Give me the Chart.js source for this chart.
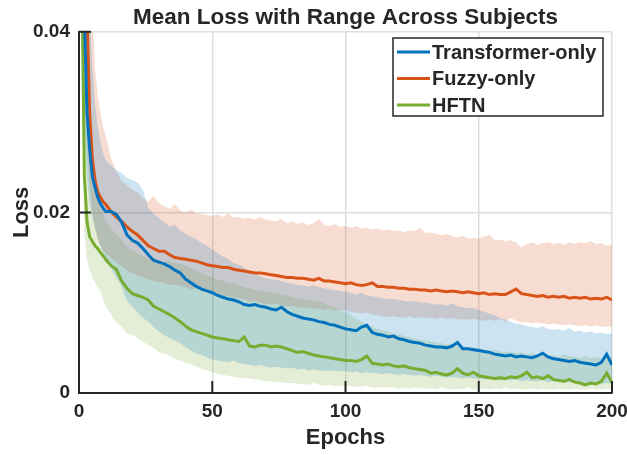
<!DOCTYPE html>
<html>
<head>
<meta charset="utf-8">
<title>Mean Loss with Range Across Subjects</title>
<script src="https://cdn.jsdelivr.net/npm/chart.js@4.4.1/dist/chart.umd.min.js"></script>
<style>
  html, body { margin: 0; padding: 0; background: #ffffff; }
  #wrap { width: 627px; height: 455px; }
</style>
</head>
<body>
<div id="wrap"><canvas id="chart" width="627" height="455"></canvas></div>
<script>
// epochs sampled from the figure (every epoch up to 10, then every 2nd)
var epochs = [
    1, 2, 3, 4, 5, 6, 7, 8, 9, 10,
    12, 14, 16, 18, 20, 22, 24, 26, 28, 30,
    32, 34, 36, 38, 40, 42, 44, 46, 48, 50,
    52, 54, 56, 58, 60, 62, 64, 66, 68, 70,
    72, 74, 76, 78, 80, 82, 84, 86, 88, 90,
    92, 94, 96, 98, 100, 102, 104, 106, 108, 110,
    112, 114, 116, 118, 120, 122, 124, 126, 128, 130,
    132, 134, 136, 138, 140, 142, 144, 146, 148, 150,
    152, 154, 156, 158, 160, 162, 164, 166, 168, 170,
    172, 174, 176, 178, 180, 182, 184, 186, 188, 190,
    192, 194, 196, 198, 200
];

var seriesNames = ['Transformer-only', 'Fuzzy-only', 'HFTN'];

var transformerMean = [
    0.06, 0.042, 0.031, 0.027, 0.024, 0.0228, 0.0217, 0.021, 0.0205, 0.0201,
    0.0201, 0.0198, 0.0189, 0.0175, 0.0169, 0.0166, 0.016, 0.0153, 0.0147, 0.0145,
    0.0143, 0.014, 0.0136, 0.0133, 0.0126, 0.0122, 0.0118, 0.0115, 0.0113, 0.0111,
    0.0108, 0.0106, 0.0104, 0.0103, 0.0101, 0.0098, 0.0097, 0.0098, 0.0096, 0.0095,
    0.0093, 0.0092, 0.0095, 0.009, 0.0087, 0.0085, 0.0083, 0.0082, 0.0081, 0.0079,
    0.0078, 0.0076, 0.0075, 0.0073, 0.0071, 0.007, 0.0069, 0.0073, 0.0075, 0.0067,
    0.0065, 0.0064, 0.0062, 0.0063, 0.006, 0.0059, 0.0057, 0.0056, 0.0055, 0.0053,
    0.0052, 0.0051, 0.0051, 0.005, 0.0052, 0.0056, 0.0049, 0.0049, 0.0048, 0.0047,
    0.0046, 0.0045, 0.0043, 0.0042, 0.0041, 0.0042, 0.004, 0.0041, 0.004, 0.0039,
    0.0041, 0.0044, 0.004, 0.0038, 0.0037, 0.0036, 0.0035, 0.0036, 0.0034, 0.0033,
    0.0032, 0.0031, 0.0034, 0.0043, 0.0031
];
var transformerMax = [
    0.08, 0.065, 0.05, 0.042, 0.036, 0.032, 0.0295, 0.0278, 0.0266, 0.0258,
    0.0252, 0.0247, 0.0244, 0.0238, 0.0236, 0.0233, 0.0225, 0.0205, 0.0198, 0.0194,
    0.0189, 0.0184, 0.0186, 0.018, 0.0176, 0.0173, 0.017, 0.0166, 0.0163, 0.0159,
    0.0155, 0.0151, 0.0148, 0.0144, 0.0142, 0.0139, 0.0135, 0.0131, 0.0129, 0.0127,
    0.0126, 0.0125, 0.0124, 0.0122, 0.0121, 0.012, 0.0119, 0.0118, 0.0119, 0.0117,
    0.0116, 0.0115, 0.0114, 0.0113, 0.0112, 0.0111, 0.0109, 0.0111, 0.0108, 0.0107,
    0.0106, 0.0105, 0.0104, 0.0104, 0.0103, 0.0102, 0.0101, 0.0102, 0.01, 0.01,
    0.0099, 0.0098, 0.0098, 0.0097, 0.0099, 0.0096, 0.0095, 0.0094, 0.0094, 0.0092,
    0.009, 0.0088, 0.0086, 0.0083, 0.0081, 0.0079, 0.0077, 0.0076, 0.0074, 0.0073,
    0.0072, 0.0074, 0.0071, 0.007, 0.0071, 0.0069, 0.0072, 0.0068, 0.0069, 0.0067,
    0.0068, 0.0066, 0.0067, 0.0065, 0.0066
];
var transformerMin = [
    0.04, 0.03, 0.024, 0.021, 0.0195, 0.0183, 0.0172, 0.0163, 0.0156, 0.015,
    0.0138, 0.0128, 0.0118, 0.0102, 0.0096, 0.0089, 0.0083, 0.0079, 0.0073, 0.0068,
    0.0064, 0.0061, 0.0058, 0.0055, 0.0051, 0.0047, 0.0044, 0.0042, 0.0039, 0.0037,
    0.0036, 0.0035, 0.0034, 0.0036, 0.0033, 0.0032, 0.0031, 0.003, 0.0031, 0.0029,
    0.0028, 0.0029, 0.0028, 0.0027, 0.0028, 0.0026, 0.0027, 0.0025, 0.0026, 0.0025,
    0.0025, 0.0024, 0.0025, 0.0024, 0.0024, 0.0023, 0.0024, 0.0022, 0.0023, 0.0022,
    0.0022, 0.0021, 0.0022, 0.0021, 0.002, 0.0021, 0.002, 0.0019, 0.002, 0.0019,
    0.0018, 0.0019, 0.0018, 0.0017, 0.0018, 0.0017, 0.0016, 0.0017, 0.0016, 0.0016,
    0.0015, 0.0016, 0.0015, 0.0014, 0.0015, 0.0014, 0.0015, 0.0013, 0.0014, 0.0013,
    0.0013, 0.0014, 0.0012, 0.0013, 0.0012, 0.0011, 0.0012, 0.0011, 0.0012, 0.0011,
    0.001, 0.0011, 0.001, 0.0011, 0.001
];

var fuzzyMean = [
    0.07, 0.052, 0.042, 0.031, 0.026, 0.0236, 0.0223, 0.0217, 0.0212, 0.0209,
    0.0201, 0.0195, 0.019, 0.0184, 0.0179, 0.0175, 0.0169, 0.0163, 0.016, 0.0157,
    0.0157, 0.0153, 0.015, 0.0149, 0.0148, 0.0147, 0.0146, 0.0144, 0.0142, 0.0141,
    0.014, 0.0139, 0.0139, 0.0137, 0.0136, 0.0135, 0.0134, 0.0133, 0.0133, 0.0132,
    0.0131, 0.013, 0.0129, 0.0128, 0.0128, 0.0127, 0.0127, 0.0126, 0.0125, 0.0127,
    0.0124, 0.0124, 0.0123, 0.0122, 0.0121, 0.0122, 0.012, 0.0119, 0.012, 0.0122,
    0.0118, 0.0118, 0.0117, 0.0117, 0.0116, 0.0116, 0.0115, 0.0115, 0.0114, 0.0114,
    0.0113, 0.0114, 0.0113, 0.0112, 0.0113, 0.0112, 0.0111, 0.0112, 0.0111, 0.011,
    0.0111, 0.0109, 0.011, 0.0109, 0.0109, 0.0112, 0.0115, 0.011, 0.0109, 0.0108,
    0.0107, 0.0108, 0.0106, 0.0107, 0.0106, 0.0107, 0.0105, 0.0106, 0.0105, 0.0106,
    0.0104, 0.0105, 0.0104, 0.0106, 0.0103
];
var fuzzyMax = [
    0.08, 0.07, 0.06, 0.05, 0.042, 0.036, 0.033, 0.031, 0.0295, 0.0285,
    0.026, 0.0245, 0.0235, 0.023, 0.0225, 0.0222, 0.0216, 0.0212, 0.0218, 0.021,
    0.0207, 0.0204, 0.0209, 0.0202, 0.02, 0.0203, 0.0199, 0.0198, 0.0197, 0.0196,
    0.0198, 0.0195, 0.0199, 0.0194, 0.0195, 0.0193, 0.0194, 0.0192, 0.0195, 0.0192,
    0.0191, 0.019, 0.0193, 0.0188, 0.019, 0.0187, 0.0189, 0.0186, 0.0188, 0.0193,
    0.0186, 0.0185, 0.0187, 0.0184, 0.0185, 0.0183, 0.0185, 0.0182, 0.0183, 0.0181,
    0.0182, 0.018, 0.0181, 0.0179, 0.018, 0.0178, 0.018, 0.0179, 0.0183, 0.0177,
    0.0178, 0.0176, 0.0175, 0.0176, 0.0174, 0.0172, 0.0174, 0.0171, 0.0172, 0.0171,
    0.0173, 0.0175, 0.0169, 0.017, 0.0168, 0.0169, 0.0167, 0.0161, 0.0165, 0.0167,
    0.0164, 0.0166, 0.0167, 0.0165, 0.0166, 0.0164, 0.0167, 0.0165, 0.0167, 0.0166,
    0.0168, 0.0165, 0.0166, 0.0163, 0.0164
];
var fuzzyMin = [
    0.05, 0.036, 0.028, 0.023, 0.02, 0.0182, 0.017, 0.0163, 0.0158, 0.0155,
    0.015, 0.0145, 0.014, 0.0136, 0.0133, 0.013, 0.0128, 0.0126, 0.0124, 0.0123,
    0.0122, 0.012, 0.012, 0.0119, 0.0117, 0.0115, 0.0116, 0.0113, 0.0114, 0.0112,
    0.011, 0.0109, 0.0107, 0.0106, 0.0105, 0.0104, 0.0101, 0.0102, 0.01, 0.0099,
    0.0098, 0.0099, 0.0097, 0.0096, 0.0097, 0.0095, 0.0094, 0.0095, 0.0093, 0.0094,
    0.0092, 0.0093, 0.0091, 0.0092, 0.0092, 0.009, 0.0089, 0.0088, 0.0089, 0.0087,
    0.0086, 0.0085, 0.0084, 0.0085, 0.0084, 0.0083, 0.0085, 0.0083, 0.0084, 0.0083,
    0.0083, 0.0082, 0.0084, 0.0082, 0.0083, 0.0081, 0.0082, 0.0081, 0.0082, 0.0081,
    0.008, 0.0081, 0.008, 0.0082, 0.0079, 0.0083, 0.008, 0.0078, 0.0079, 0.0077,
    0.0078, 0.0077, 0.0076, 0.0077, 0.0076, 0.0075, 0.0076, 0.0075, 0.0074, 0.0075,
    0.0074, 0.0075, 0.0073, 0.0074, 0.0073
];

var hftnMean = [
    0.048, 0.024, 0.019, 0.0173, 0.0168, 0.0163, 0.016, 0.0156, 0.0152, 0.0148,
    0.0141, 0.0137, 0.0124, 0.0116, 0.011, 0.0108, 0.0106, 0.0103, 0.0096, 0.0093,
    0.009, 0.0087, 0.0083, 0.0079, 0.0074, 0.007, 0.0068, 0.0066, 0.0064, 0.0062,
    0.0061, 0.006, 0.0059, 0.0058, 0.0057, 0.0062, 0.0052, 0.0051, 0.0053, 0.0053,
    0.0051, 0.0052, 0.0051, 0.0049, 0.0047, 0.0045, 0.0046, 0.0044, 0.0042, 0.0041,
    0.004, 0.0039, 0.0038, 0.0037, 0.0036, 0.0036, 0.0035, 0.0037, 0.0041, 0.0033,
    0.0032, 0.0031, 0.0032, 0.003, 0.0029, 0.003, 0.0028, 0.0027, 0.0026, 0.0025,
    0.0022, 0.0023, 0.0021, 0.002, 0.0022, 0.0027, 0.0022, 0.002, 0.0023, 0.0019,
    0.0018, 0.0017, 0.0016, 0.0017, 0.0016, 0.0018, 0.0017, 0.0019, 0.0023, 0.0017,
    0.0018, 0.0016, 0.0019, 0.0015, 0.0014, 0.0013, 0.0015, 0.0012, 0.0011, 0.0009,
    0.0011, 0.001, 0.0013, 0.0022, 0.0012
];
var hftnMax = [
    0.06, 0.036, 0.03, 0.026, 0.024, 0.0225, 0.0215, 0.0205, 0.0198, 0.019,
    0.0182, 0.0176, 0.017, 0.0162, 0.0158, 0.0155, 0.0152, 0.0149, 0.0147, 0.0146,
    0.0145, 0.0146, 0.0144, 0.0143, 0.0141, 0.0138, 0.0135, 0.0133, 0.013, 0.0128,
    0.0126, 0.0124, 0.0122, 0.0121, 0.0119, 0.0117, 0.0116, 0.0114, 0.0113, 0.0112,
    0.0111, 0.011, 0.0109, 0.0108, 0.0106, 0.0105, 0.0104, 0.0103, 0.0102, 0.0101,
    0.0099, 0.0097, 0.0094, 0.0092, 0.0089, 0.0086, 0.0082, 0.0079, 0.0076, 0.0073,
    0.0071, 0.0069, 0.0068, 0.0066, 0.0065, 0.0063, 0.0062, 0.006, 0.0059, 0.0058,
    0.0057, 0.0056, 0.0055, 0.0054, 0.0053, 0.0052, 0.0051, 0.005, 0.0051, 0.0049,
    0.0048, 0.0047, 0.0048, 0.0046, 0.0045, 0.0046, 0.0044, 0.0045, 0.0043, 0.0044,
    0.0042, 0.0043, 0.0041, 0.0042, 0.004, 0.0043, 0.0041, 0.004, 0.0039, 0.0041,
    0.0039, 0.004, 0.0038, 0.0042, 0.0039
];
var hftnMin = [
    0.04, 0.018, 0.0148, 0.0136, 0.0128, 0.0122, 0.0117, 0.0113, 0.0104, 0.0096,
    0.0087, 0.0078, 0.0074, 0.0066, 0.0064, 0.0061, 0.0057, 0.0053, 0.005, 0.0045,
    0.0044, 0.0041, 0.0038, 0.0036, 0.0033, 0.0032, 0.0029, 0.0027, 0.0025, 0.0023,
    0.0021, 0.002, 0.0019, 0.0018, 0.0017, 0.0016, 0.0016, 0.0015, 0.0014, 0.0013,
    0.0013, 0.0012, 0.0012, 0.0011, 0.0011, 0.001, 0.001, 0.0009, 0.0011, 0.0009,
    0.0008, 0.0009, 0.0008, 0.0008, 0.0007, 0.0008, 0.0007, 0.0007, 0.0008, 0.0006,
    0.0006, 0.0007, 0.0006, 0.0006, 0.0005, 0.0006, 0.0005, 0.0006, 0.0005, 0.0005,
    0.0005, 0.0004, 0.0006, 0.0005, 0.0004, 0.0005, 0.0004, 0.0006, 0.0004, 0.0004,
    0.0005, 0.0004, 0.0005, 0.0004, 0.0006, 0.0004, 0.0005, 0.0004, 0.0004, 0.0005,
    0.0004, 0.0005, 0.0004, 0.0004, 0.0005, 0.0004, 0.0004, 0.0005, 0.0004, 0.0004,
    0.0005, 0.0004, 0.0004, 0.0005, 0.0004
];

var xTicks = [0, 50, 100, 150, 200];
var yTicks = [0, 0.02, 0.04];

(function () {
    'use strict';

    var AXIS = '#262626';
    var GRID = '#dedede';
    var COLORS = ['#0072BD', '#D95319', '#77AC30'];
    var FILLS = ['rgba(0,114,189,0.2)', 'rgba(217,83,25,0.2)', 'rgba(119,172,48,0.2)'];
    var FONT = '"Liberation Sans", Arial, Helvetica, sans-serif';
    var LINE_W = 3;

    Chart.defaults.font.family = FONT;
    Chart.defaults.color = AXIS;

    function points(values) {
        var out = [];
        for (var i = 0; i < epochs.length; i++) {
            out.push({ x: epochs[i], y: values[i] });
        }
        return out;
    }

    var means = [transformerMean, fuzzyMean, hftnMean];
    var maxes = [transformerMax, fuzzyMax, hftnMax];
    var mins = [transformerMin, fuzzyMin, hftnMin];

    var datasets = [];
    // mean lines first so they sit above every shaded band
    for (var i = 0; i < 3; i++) {
        datasets.push({
            label: seriesNames[i],
            data: points(means[i]),
            borderColor: COLORS[i],
            borderWidth: LINE_W,
            pointRadius: 0,
            fill: false,
            tension: 0
        });
    }
    for (var j = 0; j < 3; j++) {
        datasets.push({
            label: '_max' + j,
            data: points(maxes[j]),
            borderWidth: 0,
            borderColor: 'rgba(0,0,0,0)',
            backgroundColor: FILLS[j],
            pointRadius: 0,
            fill: '+1'
        });
        datasets.push({
            label: '_min' + j,
            data: points(mins[j]),
            borderWidth: 0,
            borderColor: 'rgba(0,0,0,0)',
            pointRadius: 0,
            fill: false
        });
    }

    // MATLAB-style ticks pointing into the axes
    var innerTicks = {
        id: 'innerTicks',
        afterDatasetsDraw: function (chart) {
            var ctx = chart.ctx;
            var area = chart.chartArea;
            var xs = chart.scales.x;
            var ys = chart.scales.y;
            var len = 12;
            ctx.save();
            ctx.strokeStyle = AXIS;
            ctx.lineWidth = 2;
            ctx.beginPath();
            for (var i = 1; i < xTicks.length; i++) {
                var px = xs.getPixelForValue(xTicks[i]);
                ctx.moveTo(px, area.bottom);
                ctx.lineTo(px, area.bottom - len);
            }
            for (var k = 1; k < yTicks.length; k++) {
                var py = ys.getPixelForValue(yTicks[k]);
                ctx.moveTo(area.left, py);
                ctx.lineTo(area.left + len, py);
            }
            ctx.stroke();
            ctx.restore();
        }
    };

    // boxed legend in the upper right of the axes
    var boxLegend = {
        id: 'boxLegend',
        afterDraw: function (chart) {
            var ctx = chart.ctx;
            var left = 393, top = 38, right = 603, bottom = 116;
            ctx.save();
            ctx.fillStyle = '#ffffff';
            ctx.fillRect(left, top, right - left, bottom - top);
            ctx.strokeStyle = AXIS;
            ctx.lineWidth = 1.5;
            ctx.strokeRect(left, top, right - left, bottom - top);
            ctx.font = 'bold 20px ' + FONT;
            ctx.textBaseline = 'middle';
            ctx.textAlign = 'left';
            for (var i = 0; i < 3; i++) {
                var ds = chart.data.datasets[i];
                var y = 52 + i * 26.5;
                ctx.strokeStyle = ds.borderColor;
                ctx.lineWidth = LINE_W;
                ctx.beginPath();
                ctx.moveTo(397, y);
                ctx.lineTo(430, y);
                ctx.stroke();
                ctx.fillStyle = AXIS;
                ctx.fillText(ds.label, 432, y + 1);
            }
            ctx.restore();
        }
    };

    new Chart(document.getElementById('chart'), {
        type: 'line',
        data: { datasets: datasets },
        plugins: [innerTicks, boxLegend],
        options: {
            responsive: false,
            devicePixelRatio: 1,
            animation: false,
            layout: { padding: { left: 0, right: 15, top: 0, bottom: 0 } },
            plugins: {
                legend: { display: false },
                tooltip: { enabled: false },
                filler: { propagate: false },
                title: {
                    display: true,
                    text: 'Mean Loss with Range Across Subjects',
                    fullSize: false,
                    color: AXIS,
                    font: { size: 22.5, weight: 'bold', lineHeight: 1.1 },
                    padding: { top: 5, bottom: 2 }
                }
            },
            scales: {
                x: {
                    type: 'linear',
                    min: 0,
                    max: 200,
                    afterBuildTicks: function (scale) {
                        scale.ticks = xTicks.map(function (v) { return { value: v }; });
                    },
                    afterFit: function (scale) {
                        scale.height = 62;
                        scale.paddingLeft = 0;
                        scale.paddingRight = 0;
                    },
                    ticks: {
                        font: { size: 19, weight: 'bold' },
                        color: AXIS,
                        padding: 7,
                        maxRotation: 0
                    },
                    grid: { color: GRID, lineWidth: 1.5, drawTicks: false },
                    border: { display: true, color: AXIS, width: 2 },
                    title: {
                        display: true,
                        text: 'Epochs',
                        color: AXIS,
                        font: { size: 22, weight: 'bold' },
                        padding: { top: 0, bottom: 4 }
                    }
                },
                y: {
                    min: 0,
                    max: 0.04,
                    afterBuildTicks: function (scale) {
                        scale.ticks = yTicks.map(function (v) { return { value: v }; });
                    },
                    afterFit: function (scale) {
                        scale.width = 79;
                        scale.paddingTop = 0;
                        scale.paddingBottom = 0;
                    },
                    ticks: {
                        font: { size: 19, weight: 'bold' },
                        color: AXIS,
                        padding: 9,
                        callback: function (v) {
                            return v === 0 ? '0' : String(Math.round(v * 100) / 100);
                        }
                    },
                    grid: { color: GRID, lineWidth: 1.5, drawTicks: false },
                    border: { display: true, color: AXIS, width: 2 },
                    title: {
                        display: true,
                        text: 'Loss',
                        color: AXIS,
                        font: { size: 22, weight: 'bold' },
                        padding: { top: 9, bottom: 0 }
                    }
                }
            }
        }
    });
})();
</script>
</body>
</html>
